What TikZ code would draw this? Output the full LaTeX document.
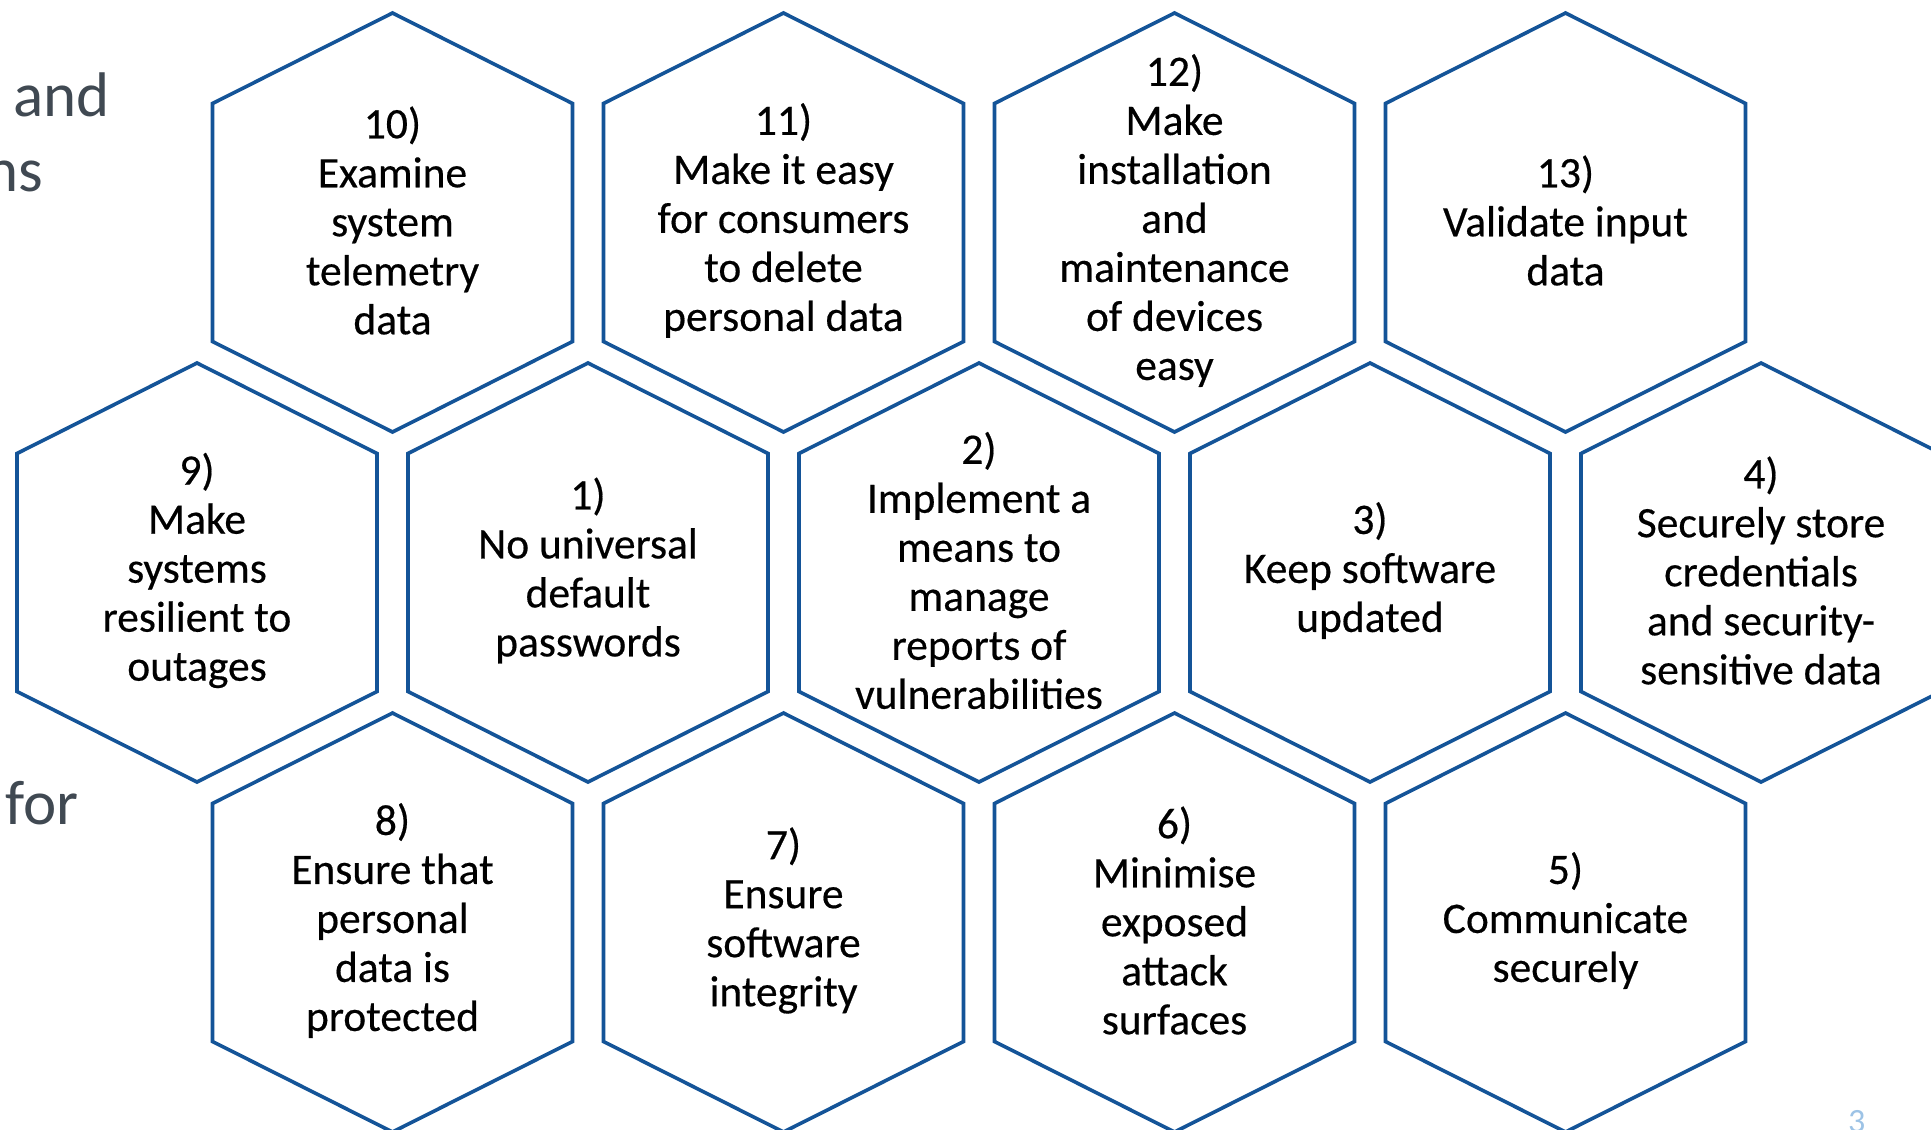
\documentclass[tikz,border=0pt]{standalone}
\usepackage{fontspec}
\setmainfont{Carlito}[FakeBold=0.4]
\newfontfamily\slidefont{Carlito}
\definecolor{hexblue}{RGB}{20,84,152}
\definecolor{slidegray}{RGB}{64,73,82}
\definecolor{pagenum}{RGB}{157,195,230}
\newcommand\hexcell[4]{%
  \draw[hexbox] (#2,#3-209.5) -- (#2+180,#3-119) -- (#2+180,#3+119) -- (#2,#3+209.5) -- (#2-180,#3+119) -- (#2-180,#3-119) -- cycle;
  \node[hextext] (#1) at (#2,#3-2) {#4};%
}
\begin{document}
\begin{tikzpicture}[x=1pt,y=-1pt,
  hexbox/.style={draw=hexblue, line width=3.6pt, line join=miter},
  hextext/.style={align=center, font=\fontsize{43.5}{49}\selectfont, inner sep=0pt, text=black},
  slidetext/.style={font=\slidefont\fontsize{63}{77}\selectfont, text=slidegray, inner sep=0pt}]
\useasboundingbox (0,0) rectangle (1931,1130);
\fill[white] (0,0) rectangle (1931,1130);
\clip (0,0) rectangle (1931,1130);
% background slide text fragments
\node[slidetext, anchor=base west] (tand) at (13,116) {and};
\node[slidetext, anchor=base east] (tns) at (43,191) {ns};
\node[slidetext, anchor=base west] (tfor) at (5,824) {for};
\node[font=\slidefont\fontsize{34}{40}\selectfont, text=pagenum, inner sep=0pt, anchor=base west] (pnum) at (1848,1132) {3};
% row 1
\hexcell{h10}{392.5}{222.5}{10)\\Examine\\system\\telemetry\\data}
\hexcell{h11}{783.5}{222.5}{11)\\Make it easy\\for consumers\\to delete\\personal data}
\hexcell{h12}{1174.5}{222.5}{12)\\Make\\installation\\and\\maintenance\\of devices\\easy}
\hexcell{h13}{1565.5}{222.5}{13)\\Validate input\\data}
% row 2
\hexcell{h9}{197}{572.5}{9)\\Make\\systems\\resilient to\\outages}
\hexcell{h1}{588}{572.5}{1)\\No universal\\default\\passwords}
\hexcell{h2}{979}{572.5}{2)\\Implement a\\means to\\manage\\reports of\\vulnerabilities}
\hexcell{h3}{1370}{572.5}{3)\\Keep software\\updated}
\hexcell{h4}{1761}{572.5}{4)\\Securely store\\credentials\\and security-\\sensitive data}
% row 3
\hexcell{h8}{392.5}{922.5}{8)\\Ensure that\\personal\\data is\\protected}
\hexcell{h7}{783.5}{922.5}{7)\\Ensure\\software\\integrity}
\hexcell{h6}{1174.5}{922.5}{6)\\Minimise\\exposed\\attack\\surfaces}
\hexcell{h5}{1565.5}{922.5}{5)\\Communicate\\securely}
\end{tikzpicture}
\end{document}
